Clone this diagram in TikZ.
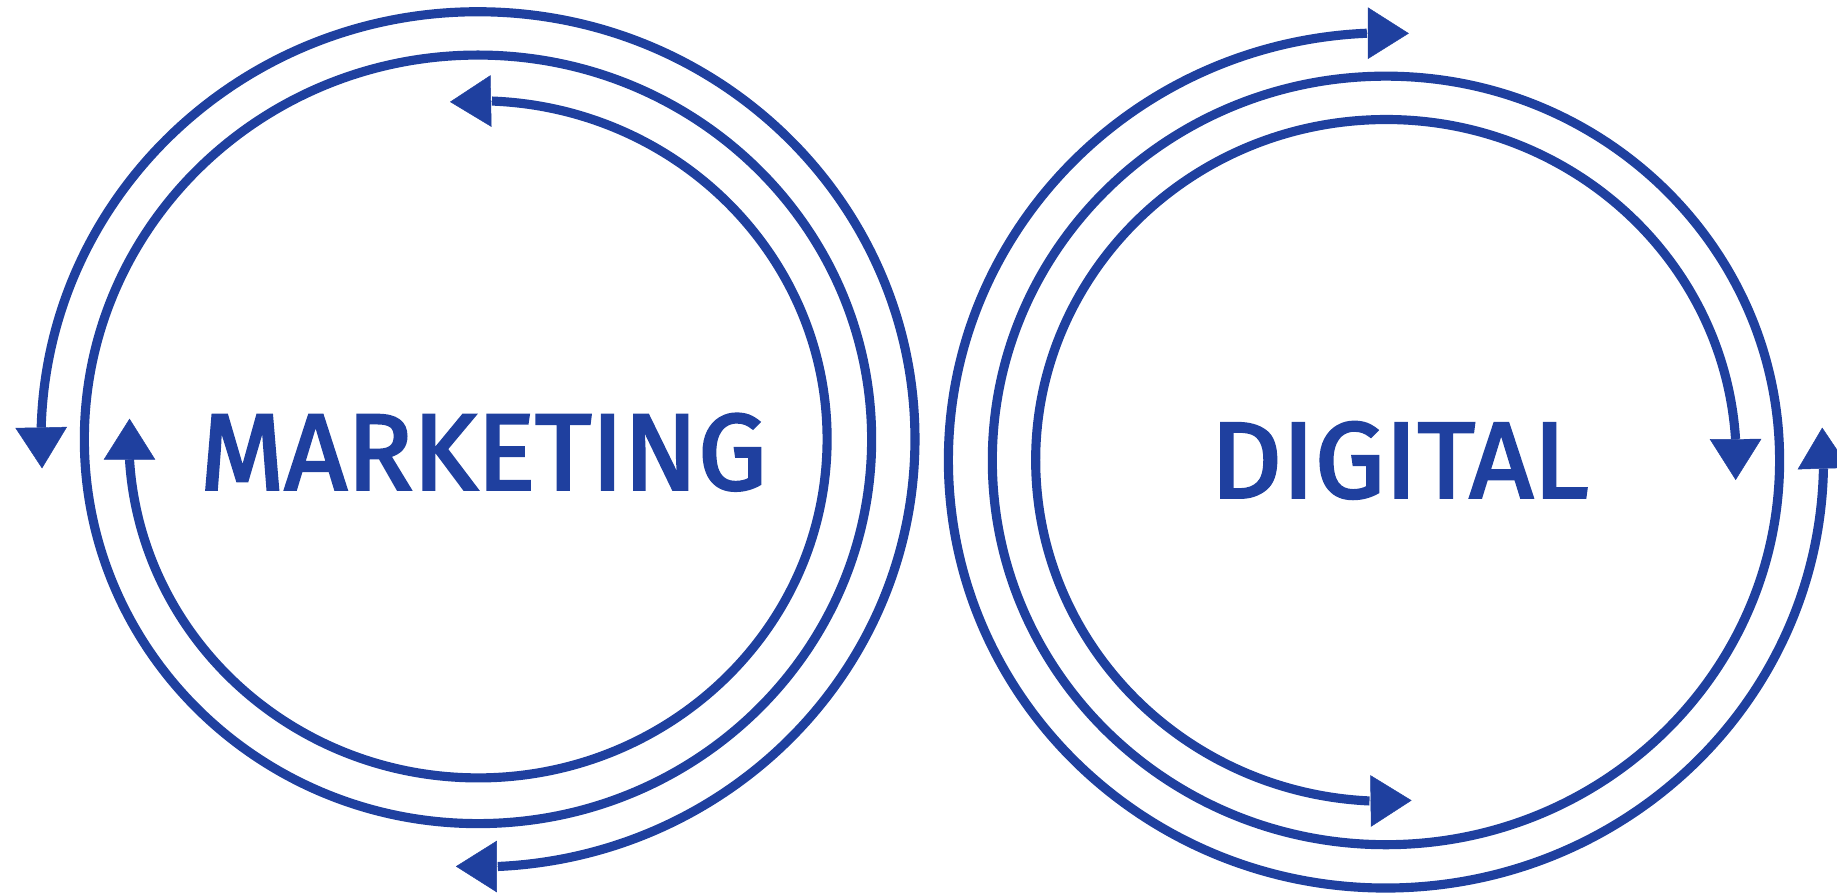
\documentclass[tikz,border=0pt]{standalone}
\usepackage{fontspec}
\newfontfamily\wordfont{Fira Sans}
\usetikzlibrary{arrows.meta}
\definecolor{navy}{RGB}{31,64,159}
\newcommand\arrowend[5]{\draw[tipline] ([shift={(#4:#2 and #3)}]#1) -- ([shift={(#5:#2 and #3)}]#1);}
\newcommand\heavy[1]{\special{pdf:literal direct 2 Tr 1.2 w}#1\special{pdf:literal direct 0 Tr}}
\begin{document}
\begin{tikzpicture}[x=0.5pt,y=0.5pt,
  ring/.style={draw=navy,line width=3.9pt},
  tipline/.style={draw=navy,line width=0.2pt,-{Triangle[length=17.5pt,width=22pt]}},
  word/.style={text=navy,font=\fontsize{46}{50}\selectfont\wordfont,inner sep=0pt}]
\useasboundingbox (0,0) rectangle (1568,762);
\coordinate (L) at (408,387);
\coordinate (R) at (1183,369);
% left group
\draw[ring] (L) ellipse [x radius=336,y radius=328];
\draw[ring] ([shift={(178.4:373 and 365)}]L) arc[start angle=178.4,end angle=-87.4,x radius=373,y radius=365];
\arrowend{L}{373}{365}{178.4}{183.9}
\arrowend{L}{373}{365}{-87.4}{-92.9}
\draw[ring] ([shift={(87.7:298 and 289)}]L) arc[start angle=87.7,end angle=-176.6,x radius=298,y radius=289];
\arrowend{L}{298}{289}{87.7}{94.6}
\arrowend{L}{298}{289}{-176.6}{-183.5}
% right group
\draw[ring] (R) ellipse [x radius=336,y radius=328];
\draw[ring] ([shift={(92.5:373.5 and 365)}]R) arc[start angle=92.5,end angle=358.9,x radius=373.5,y radius=365];
\arrowend{R}{373.5}{365}{92.5}{87.0}
\arrowend{R}{373.5}{365}{358.9}{364.4}
\draw[ring] ([shift={(3.6:299 and 291)}]R) arc[start angle=3.6,end angle=267.3,x radius=299,y radius=291];
\arrowend{R}{299}{291}{3.6}{-3.3}
\arrowend{R}{299}{291}{267.3}{274.2}
\node[word,xscale=1.01] (mk) at (412.5,376) {\heavy{MARKETING}};
\node[word,xscale=1.03] (dg) at (1194.5,369) {\heavy{DIGITAL}};
\end{tikzpicture}
\end{document}
